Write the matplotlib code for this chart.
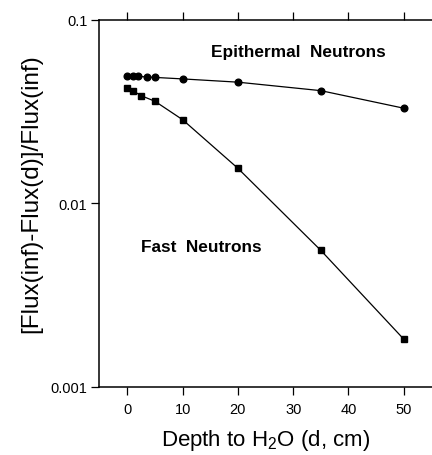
import matplotlib.pyplot as plt
from matplotlib.ticker import FixedLocator, NullLocator

plt.rcParams['font.family'] = ['Liberation Sans', 'DejaVu Sans']
plt.rcParams['mathtext.default'] = 'regular'

# depth to water (cm) and relative flux deficit
epi_depth = [0, 1, 2, 3.5, 5, 10, 20, 35, 50]
epi_flux = [0.0495, 0.0492, 0.049, 0.0487, 0.0484, 0.0475, 0.0456, 0.041, 0.0329]

fast_depth = [0, 1, 2.5, 5, 10, 20, 35, 50]
fast_flux = [0.0423, 0.041, 0.0385, 0.0359, 0.0285, 0.0155, 0.00554, 0.00182]

x_ticks = [0, 10, 20, 30, 40, 50]
y_ticks = [0.1, 0.01, 0.001]
y_labels = ['0.1', '0.01', '0.001']

W, H = 432, 456
fig = plt.figure(figsize=(W / 100, H / 100), dpi=100)
ax = fig.add_axes([98.5 / W, 1 - 388 / H, 1 - 98.5 / W, (388 - 20.5) / H])

ax.plot(epi_depth, epi_flux, color='black', lw=0.9, marker='o', ms=4.8)
ax.plot(fast_depth, fast_flux, color='black', lw=0.9, marker='s', ms=4.8)

ax.set_yscale('log')
ax.set_xlim(-5.2, 55.1)
ax.set_ylim(0.001, 0.1)

ax.xaxis.set_major_locator(FixedLocator(x_ticks))
ax.yaxis.set_major_locator(FixedLocator(y_ticks))
ax.yaxis.set_minor_locator(NullLocator())
ax.set_xticklabels([str(t) for t in x_ticks], fontsize=10.5)
ax.set_yticklabels(y_labels, fontsize=10.5)

ax.tick_params(axis='both', direction='out', length=6, width=0.9, color='black')
ax.tick_params(axis='x', top=True, pad=5)
ax.tick_params(axis='y', pad=2)
ax.spines['right'].set_visible(False)
for s in ['left', 'top', 'bottom']:
    ax.spines[s].set_linewidth(1.1)

# labels placed in pixel coordinates (origin bottom-left)
ax.text(298, H - 53, 'Epithermal  Neutrons', transform=None, fontsize=12.4,
        fontweight='bold', ha='center', va='center')
ax.text(201.5, H - 248, 'Fast  Neutrons', transform=None, fontsize=12.4,
        fontweight='bold', ha='center', va='center')

ax.set_xlabel('Depth to H$_2$O (d, cm)', fontsize=16, labelpad=8)
ax.set_ylabel('[Flux(inf)-Flux(d)]/Flux(inf)', fontsize=17.5)
ax.yaxis.set_label_coords(-0.17, 0.53)

fig.savefig('out.png', dpi=100)
